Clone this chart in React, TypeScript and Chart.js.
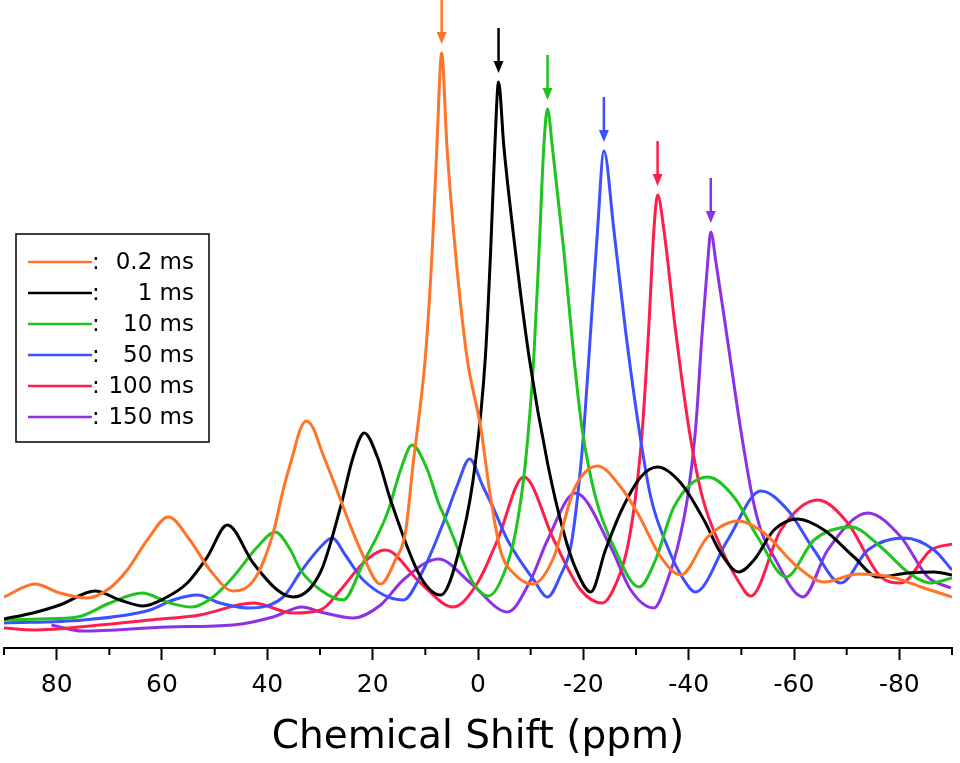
import React, { useEffect, useRef } from 'react'
import { Chart, registerables, Plugin } from 'chart.js'

Chart.register(...registerables)

// spectra: [chemical shift (ppm), intensity (a.u.)]
const trace02ms: [number, number][] = [
  [90, 51], [84.1, 64], [79.4, 55], [74.2, 50], [69.9, 60], [66.6, 78], [62.8, 108],
  [58.8, 131], [54.7, 108], [50.9, 78], [46.5, 57], [42.3, 70], [38.9, 115], [37.0, 158],
  [35.1, 194], [33.8, 218], [32.6, 227], [31.2, 219], [29.9, 200], [27.3, 165], [24.8, 130],
  [22.3, 98], [18.5, 64], [15.7, 88], [13.8, 115], [12.3, 185], [10.0, 291], [8.7, 397],
  [7.8, 502], [6.9, 595], [5.9, 502], [4.3, 397], [2.1, 291], [-0.5, 221], [-2.4, 150],
  [-4.3, 97], [-7.1, 73], [-10.4, 64], [-14.4, 91], [-18.2, 158], [-22.7, 182],
  [-27.1, 161], [-30.3, 135], [-34.7, 91], [-38.5, 73], [-43.6, 111], [-49.5, 127],
  [-54.3, 115], [-60.7, 81], [-65.7, 66], [-72.2, 74], [-78.4, 71], [-84.7, 60], [-90, 51],
]

const trace1ms: [number, number][] = [
  [90, 29], [84.5, 35], [79.4, 43], [72.7, 57], [68.0, 48], [63.6, 42], [59.4, 50],
  [55.2, 65], [51.4, 91], [47.6, 123], [42.7, 85], [38.1, 58], [35.1, 51], [29.9, 76],
  [26.1, 141], [23.7, 191], [21.6, 215], [19.1, 191], [16.6, 148], [10.9, 71], [7.1, 53],
  [2.8, 115], [0.5, 185], [-1.4, 291], [-2.4, 397], [-3.2, 502], [-3.9, 566], [-4.9, 502],
  [-7.1, 397], [-9.7, 291], [-13.2, 185], [-16.3, 115], [-18.5, 80], [-21.4, 56],
  [-24.2, 98], [-27.1, 136], [-30.9, 171], [-34.1, 181], [-38.5, 165], [-42.9, 128],
  [-46.1, 95], [-49.5, 76], [-52.4, 88], [-56.2, 118], [-60.7, 129], [-65.7, 118],
  [-71.4, 91], [-75.9, 71], [-81.6, 75], [-86.6, 76], [-90, 73],
]

const trace10ms: [number, number][] = [
  [90, 28], [83.2, 29], [76.1, 31], [69.9, 45], [63.8, 55], [58.5, 45], [54.3, 41],
  [50.3, 51], [46.5, 71], [41.9, 101], [38.5, 116], [35.6, 98], [33.7, 78], [29.9, 58],
  [25.6, 48], [21.8, 85], [17.2, 135], [14.7, 178], [12.5, 203], [9.6, 178], [7.5, 145],
  [5.8, 125], [0.9, 65], [-2.0, 52], [-4.8, 73], [-7.1, 115], [-9.0, 185], [-10.6, 291],
  [-11.6, 397], [-12.5, 502], [-13.2, 539], [-14.1, 502], [-16.3, 397], [-18.2, 291],
  [-19.8, 218], [-22.3, 151], [-25.8, 101], [-30.6, 61], [-33.7, 88], [-37.2, 141],
  [-43.6, 171], [-48.6, 151], [-53.1, 111], [-58.5, 71], [-63.8, 108], [-70.8, 121],
  [-76.5, 101], [-81.6, 76], [-86.0, 65], [-90, 70],
]

const trace50ms: [number, number][] = [
  [90, 25], [75, 28], [62.3, 38], [57.9, 48], [53.3, 53], [49.0, 45], [43.8, 40],
  [37.0, 51], [33.7, 76], [29.9, 101], [27.7, 110], [25.2, 93], [21.8, 68], [14.2, 48],
  [10.4, 78], [6.6, 125], [3.9, 163], [1.6, 189], [-0.9, 162], [-2.9, 140], [-5.6, 108],
  [-10.6, 68], [-13.2, 51], [-15.7, 73], [-17.6, 101], [-18.9, 151], [-20.1, 218],
  [-21.4, 318], [-22.7, 418], [-23.9, 497], [-25.8, 418], [-28.0, 318], [-30.6, 218],
  [-32.8, 151], [-36.0, 101], [-39.1, 68], [-41.3, 56], [-47.4, 108], [-53.7, 157],
  [-58.8, 138], [-63.8, 98], [-68.9, 65], [-74.0, 98], [-80.9, 110], [-86.6, 98], [-90, 78],
]

const trace100ms: [number, number][] = [
  [90, 20], [84.5, 18], [71.8, 23], [62.3, 28], [52.8, 33], [42.7, 45], [35.1, 35],
  [29.9, 38], [26.1, 58], [21.8, 85], [17.6, 98], [10.9, 65], [4.7, 41], [0.1, 65],
  [-3.7, 108], [-8.7, 171], [-14.4, 108], [-19.5, 58], [-23.6, 45], [-26.5, 68],
  [-28.4, 101], [-29.9, 151], [-31.2, 218], [-32.4, 318], [-33.4, 418], [-34.1, 453],
  [-35.3, 418], [-37.5, 318], [-40.1, 218], [-42.6, 151], [-46.1, 101], [-49.3, 68],
  [-51.8, 52], [-57.5, 118], [-64.5, 148], [-70.2, 125], [-76.5, 71], [-80.3, 65],
  [-86.0, 98], [-90, 104],
]

const trace150ms: [number, number][] = [
  [81, 23], [75, 17], [59, 21], [46.5, 23], [38.9, 31], [33.4, 41], [29.9, 36],
  [23.7, 30], [18.5, 43], [14.2, 68], [7.5, 89], [1.4, 65], [-5.6, 36], [-10.0, 68],
  [-13.2, 108], [-18.5, 155], [-25.2, 101], [-29.0, 58], [-33.4, 40], [-36.0, 68],
  [-37.9, 101], [-39.8, 151], [-41.3, 218], [-42.6, 318], [-43.6, 385], [-44.2, 416],
  [-45.2, 385], [-47.1, 318], [-49.9, 218], [-52.1, 151], [-53.7, 118], [-56.2, 91],
  [-61.7, 51], [-66.4, 98], [-74.0, 135], [-80.3, 111], [-85.4, 71], [-89.8, 60],
]

const seriesLabels = ['0.2 ms', '1 ms', '10 ms', '50 ms', '100 ms', '150 ms']
const seriesColors = ['#ff7428', '#000000', '#1fc41f', '#3c50ff', '#ff1e4b', '#8c32e6']
const traces = [trace02ms, trace1ms, trace10ms, trace50ms, trace100ms, trace150ms]

const majorTicks = [80, 60, 40, 20, 0, -20, -40, -60, -80]
const minorTicks = [90, 70, 50, 30, 10, -10, -30, -50, -70, -90]

const FONT = "'DejaVu Sans', sans-serif"

// minor ticks, arrows over the main peaks, and the boxed legend
const decorations: Plugin<'line'> = {
  id: 'decorations',
  afterDraw(chart) {
    const { ctx, scales, chartArea } = chart
    const xs = scales.x
    ctx.save()

    ctx.strokeStyle = '#000'
    ctx.lineWidth = 2
    minorTicks.forEach((v) => {
      const px = xs.getPixelForValue(v)
      ctx.beginPath()
      ctx.moveTo(px, chartArea.bottom)
      ctx.lineTo(px, chartArea.bottom + 7)
      ctx.stroke()
    })

    chart.data.datasets.forEach((ds, i) => {
      const meta = chart.getDatasetMeta(i)
      let best = 0
      ;(ds.data as { x: number; y: number }[]).forEach((p, j, arr) => {
        if (p.y > arr[best].y) best = j
      })
      const pt = meta.data[best]
      const tipY = pt.y - 9
      const color = seriesColors[i]
      ctx.strokeStyle = color
      ctx.fillStyle = color
      ctx.lineWidth = 2.5
      ctx.beginPath()
      ctx.moveTo(pt.x, tipY - 45)
      ctx.lineTo(pt.x, tipY - 8)
      ctx.stroke()
      ctx.beginPath()
      ctx.moveTo(pt.x - 5, tipY - 12)
      ctx.lineTo(pt.x + 5, tipY - 12)
      ctx.lineTo(pt.x, tipY)
      ctx.closePath()
      ctx.fill()
    })

    ctx.strokeStyle = '#000'
    ctx.lineWidth = 1.5
    ctx.strokeRect(16, 234, 193, 208)
    ctx.font = `23px ${FONT}`
    ctx.textBaseline = 'middle'
    seriesLabels.forEach((label, i) => {
      const y = 262 + i * 31
      ctx.strokeStyle = seriesColors[i]
      ctx.lineWidth = 2.5
      ctx.beginPath()
      ctx.moveTo(28, y)
      ctx.lineTo(92, y)
      ctx.stroke()
      ctx.fillStyle = '#000'
      ctx.textAlign = 'left'
      ctx.fillText(':', 92, y + 1)
      ctx.textAlign = 'right'
      ctx.fillText(label, 194, y + 1)
    })

    ctx.restore()
  },
}

const App: React.FC = () => {
  const canvasRef = useRef<HTMLCanvasElement>(null)
  const chartRef = useRef<Chart<'line'> | null>(null)

  useEffect(() => {
    if (!canvasRef.current) return
    chartRef.current = new Chart(canvasRef.current, {
      type: 'line',
      data: {
        datasets: traces.map((t, i) => ({
          label: seriesLabels[i],
          data: t.map(([x, y]) => ({ x, y })),
          borderColor: seriesColors[i],
          borderWidth: 3,
          pointRadius: 0,
          cubicInterpolationMode: 'monotone' as const,
          fill: false,
        })),
      },
      options: {
        responsive: false,
        animation: false,
        layout: { padding: { left: 4, right: 8, top: 0, bottom: 0 } },
        plugins: {
          legend: { display: false },
          tooltip: { enabled: false },
        },
        scales: {
          x: {
            type: 'linear',
            reverse: true,
            min: -90,
            max: 90,
            afterBuildTicks: (scale) => {
              scale.ticks = majorTicks.map((value) => ({ value }))
            },
            afterFit: (scale) => {
              scale.height = 115
            },
            ticks: {
              color: '#000',
              font: { family: FONT, size: 25 },
              padding: 10,
              maxRotation: 0,
              autoSkip: false,
            },
            grid: {
              drawOnChartArea: false,
              drawTicks: true,
              tickLength: 12,
              tickColor: '#000',
              tickWidth: 2,
            },
            border: { display: true, color: '#000', width: 2 },
            title: {
              display: true,
              text: 'Chemical Shift (ppm)',
              color: '#000',
              font: { family: FONT, size: 39 },
              padding: { top: 0, bottom: 2 },
            },
          },
          y: {
            display: false,
            min: 0,
            max: 648,
          },
        },
      },
      plugins: [decorations],
    })

    return () => {
      if (chartRef.current) {
        chartRef.current.destroy()
      }
    }
  }, [])

  return (
    <div style={{ position: 'fixed', left: 0, top: 0, width: '960px', height: '763px', background: '#fff' }}>
      <canvas ref={canvasRef} width={960} height={763} />
    </div>
  )
}

export default App
